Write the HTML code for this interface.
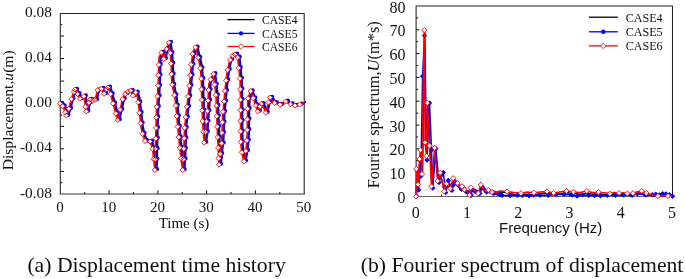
<!DOCTYPE html>
<html><head><meta charset="utf-8"><title>Figure</title>
<style>html,body{margin:0;padding:0;background:#fff;width:685px;height:279px;overflow:hidden}</style>
</head><body>
<svg width="685" height="279" viewBox="0 0 685 279" style="display:block;position:absolute;left:0;top:0" font-family="'Liberation Serif', 'Times New Roman', serif" fill="#111">
<rect width="685" height="279" fill="#fff"/>
<path d="M60.3,194.0V13.4H304.2V194.0" fill="none" stroke="#222" stroke-width="1.05"/><path d="M59.75,194.0H304.75" fill="none" stroke="#333" stroke-width="1.1"/>
<path d="M109.1,194.0v-3.7M157.9,194.0v-3.7M206.6,194.0v-3.7M255.4,194.0v-3.7M84.7,194.0v-2.1M133.5,194.0v-2.1M182.2,194.0v-2.1M231.0,194.0v-2.1M279.8,194.0v-2.1M60.3,36.0h3.7M60.3,58.5h3.7M60.3,81.1h3.7M60.3,103.7h3.7M60.3,126.3h3.7M60.3,148.8h3.7M60.3,171.4h3.7M60.3,24.7h2.1M60.3,47.3h2.1M60.3,69.8h2.1M60.3,92.4h2.1M60.3,115.0h2.1M60.3,137.6h2.1M60.3,160.1h2.1M60.3,182.7h2.1" fill="none" stroke="#111" stroke-width="1"/>
<g>
<polyline points="61.0,103.3 63.0,104.6 65.0,108.6 67.3,115.2 69.0,111.6 71.0,103.6 73.5,94.6 76.0,89.2 78.5,93.6 81.0,98.4 83.0,97.1 84.8,95.9 86.0,103.6 87.3,111.0 89.0,104.6 91.0,99.2 93.5,100.1 96.0,99.6 97.5,93.6 98.6,89.6 102.4,88.4 105.0,93.4 107.0,89.6 109.0,87.1 111.0,91.6 112.4,97.2 114.5,104.6 116.5,112.6 118.7,119.6 121.0,109.6 123.0,100.6 125.0,94.6 128.5,91.6 131.6,90.2 134.0,95.2 136.6,92.1 138.5,97.1 139.8,107.2 141.0,117.2 141.8,126.0 143.5,133.6 146.0,140.6 149.0,141.6 151.0,141.1 153.6,148.6 154.8,161.6 155.8,169.6 156.3,155.6 156.5,142.6 156.8,129.6 157.3,112.2 158.5,94.6 159.3,78.6 159.6,65.6 160.0,57.2 162.3,52.2 164.8,58.5 167.0,49.6 169.8,42.2 171.5,54.6 172.2,66.0 172.5,77.3 173.0,83.6 176.0,98.4 177.4,112.2 178.6,126.0 179.9,139.6 181.0,149.6 182.4,162.2 183.6,169.6 184.5,157.2 185.0,142.1 185.5,127.6 188.0,104.6 191.0,78.6 192.4,62.2 194.0,50.9 196.5,47.1 198.7,55.9 201.0,65.6 202.3,79.6 202.5,92.2 203.0,103.6 203.3,115.9 203.8,124.6 204.2,132.2 205.2,142.2 206.5,134.6 207.3,122.1 208.5,107.6 209.8,83.6 212.3,77.2 214.3,73.6 216.0,87.2 217.0,97.2 217.5,111.6 218.0,124.6 218.8,142.2 219.3,152.2 220.0,164.2 221.5,149.6 222.5,143.5 223.6,115.9 224.8,102.2 226.0,88.5 228.0,72.2 229.8,63.4 232.4,55.9 236.0,54.1 238.6,57.1 239.9,69.6 241.0,81.0 241.5,103.6 241.5,127.2 241.8,143.5 242.8,153.5 244.9,161.0 247.0,149.6 248.1,134.6 248.4,112.2 248.8,98.4 251.6,90.9 254.8,99.6 258.6,111.0 262.4,103.5 264.0,106.0 266.6,112.2 268.6,104.6 271.0,97.2 274.9,102.2 278.0,103.6 281.0,104.2 286.7,101.0 290.0,103.5 296.0,105.2 302.5,103.5 305.0,102.1" fill="none" stroke="#000" stroke-width="1.4"/>
<polyline points="62.1,102.9 64.1,104.2 66.1,108.2 68.4,114.8 70.1,111.2 72.1,103.2 74.6,94.2 77.1,88.8 79.6,93.2 82.1,98.0 84.1,96.7 85.9,95.5 87.1,103.2 88.4,110.6 90.1,104.2 92.1,98.8 94.6,99.7 97.1,99.2 98.6,93.2 99.7,89.2 103.5,88.0 106.1,93.0 108.1,89.2 110.1,86.7 112.1,91.2 113.5,96.8 115.6,104.2 117.6,112.2 119.8,119.2 122.1,109.2 124.1,100.2 126.1,94.2 129.6,91.2 132.7,89.8 135.1,94.8 137.7,91.7 139.6,96.7 140.9,106.8 142.1,116.8 142.9,125.6 144.6,133.2 147.1,140.2 150.1,141.2 152.1,140.7 154.7,148.2 155.9,161.2 156.9,169.2 157.4,155.2 157.6,142.2 157.9,129.2 158.4,111.8 159.6,94.2 160.4,78.2 160.7,65.2 161.1,56.8 163.4,51.8 165.9,58.1 168.1,49.2 170.9,41.8 172.6,54.2 173.3,65.6 173.6,76.9 174.1,83.2 177.1,98.0 178.5,111.8 179.7,125.6 181.0,139.2 182.1,149.2 183.5,161.8 184.7,169.2 185.6,156.8 186.1,141.7 186.6,127.2 189.1,104.2 192.1,78.2 193.5,61.8 195.1,50.5 197.6,46.7 199.8,55.5 202.1,65.2 203.4,79.2 203.6,91.8 204.1,103.2 204.4,115.5 204.9,124.2 205.3,131.8 206.3,141.8 207.6,134.2 208.4,121.7 209.6,107.2 210.9,83.2 213.4,76.8 215.4,73.2 217.1,86.8 218.1,96.8 218.6,111.2 219.1,124.2 219.9,141.8 220.4,151.8 221.1,163.8 222.6,149.2 223.6,143.1 224.7,115.5 225.9,101.8 227.1,88.1 229.1,71.8 230.9,63.0 233.5,55.5 237.1,53.7 239.7,56.7 241.0,69.2 242.1,80.6 242.6,103.2 242.6,126.8 242.9,143.1 243.9,153.1 246.0,160.6 248.1,149.2 249.2,134.2 249.5,111.8 249.9,98.0 252.7,90.5 255.9,99.2 259.7,110.6 263.5,103.1 265.1,105.6 267.7,111.8 269.7,104.2 272.1,96.8 276.0,101.8 279.1,103.2 282.1,103.8 287.8,100.6 291.1,103.1 297.1,104.8 303.6,103.1 306.1,101.7" fill="none" stroke="#00f" stroke-width="1.6" stroke-linejoin="round"/>
<path d="M60.0,102.9a2.15,2.15 0 1,0 4.3,0a2.15,2.15 0 1,0 -4.3,0ZM62.5,105.4a2.15,2.15 0 1,0 4.3,0a2.15,2.15 0 1,0 -4.3,0ZM65.1,111.4a2.15,2.15 0 1,0 4.3,0a2.15,2.15 0 1,0 -4.3,0ZM66.2,114.8a2.15,2.15 0 1,0 4.3,0a2.15,2.15 0 1,0 -4.3,0ZM68.8,108.0a2.15,2.15 0 1,0 4.3,0a2.15,2.15 0 1,0 -4.3,0ZM71.3,98.3a2.15,2.15 0 1,0 4.3,0a2.15,2.15 0 1,0 -4.3,0ZM73.9,91.1a2.15,2.15 0 1,0 4.3,0a2.15,2.15 0 1,0 -4.3,0ZM74.9,88.8a2.15,2.15 0 1,0 4.3,0a2.15,2.15 0 1,0 -4.3,0ZM77.4,93.2a2.15,2.15 0 1,0 4.3,0a2.15,2.15 0 1,0 -4.3,0ZM79.9,98.0a2.15,2.15 0 1,0 4.3,0a2.15,2.15 0 1,0 -4.3,0ZM83.7,95.5a2.15,2.15 0 1,0 4.3,0a2.15,2.15 0 1,0 -4.3,0ZM85.4,105.9a2.15,2.15 0 1,0 4.3,0a2.15,2.15 0 1,0 -4.3,0ZM86.2,110.6a2.15,2.15 0 1,0 4.3,0a2.15,2.15 0 1,0 -4.3,0ZM88.8,101.9a2.15,2.15 0 1,0 4.3,0a2.15,2.15 0 1,0 -4.3,0ZM89.9,98.8a2.15,2.15 0 1,0 4.3,0a2.15,2.15 0 1,0 -4.3,0ZM92.4,99.7a2.15,2.15 0 1,0 4.3,0a2.15,2.15 0 1,0 -4.3,0ZM94.9,99.2a2.15,2.15 0 1,0 4.3,0a2.15,2.15 0 1,0 -4.3,0ZM97.5,89.5a2.15,2.15 0 1,0 4.3,0a2.15,2.15 0 1,0 -4.3,0ZM101.3,88.0a2.15,2.15 0 1,0 4.3,0a2.15,2.15 0 1,0 -4.3,0ZM103.9,93.0a2.15,2.15 0 1,0 4.3,0a2.15,2.15 0 1,0 -4.3,0ZM106.4,88.6a2.15,2.15 0 1,0 4.3,0a2.15,2.15 0 1,0 -4.3,0ZM107.9,86.7a2.15,2.15 0 1,0 4.3,0a2.15,2.15 0 1,0 -4.3,0ZM110.5,93.4a2.15,2.15 0 1,0 4.3,0a2.15,2.15 0 1,0 -4.3,0ZM113.0,102.7a2.15,2.15 0 1,0 4.3,0a2.15,2.15 0 1,0 -4.3,0ZM115.6,112.7a2.15,2.15 0 1,0 4.3,0a2.15,2.15 0 1,0 -4.3,0ZM117.6,119.2a2.15,2.15 0 1,0 4.3,0a2.15,2.15 0 1,0 -4.3,0ZM120.0,109.0a2.15,2.15 0 1,0 4.3,0a2.15,2.15 0 1,0 -4.3,0ZM122.5,98.5a2.15,2.15 0 1,0 4.3,0a2.15,2.15 0 1,0 -4.3,0ZM125.1,93.2a2.15,2.15 0 1,0 4.3,0a2.15,2.15 0 1,0 -4.3,0ZM127.7,91.1a2.15,2.15 0 1,0 4.3,0a2.15,2.15 0 1,0 -4.3,0ZM130.5,89.8a2.15,2.15 0 1,0 4.3,0a2.15,2.15 0 1,0 -4.3,0ZM132.9,94.8a2.15,2.15 0 1,0 4.3,0a2.15,2.15 0 1,0 -4.3,0ZM135.5,91.7a2.15,2.15 0 1,0 4.3,0a2.15,2.15 0 1,0 -4.3,0ZM138.1,101.5a2.15,2.15 0 1,0 4.3,0a2.15,2.15 0 1,0 -4.3,0ZM139.4,112.0a2.15,2.15 0 1,0 4.3,0a2.15,2.15 0 1,0 -4.3,0ZM140.5,122.6a2.15,2.15 0 1,0 4.3,0a2.15,2.15 0 1,0 -4.3,0ZM142.4,133.0a2.15,2.15 0 1,0 4.3,0a2.15,2.15 0 1,0 -4.3,0ZM144.9,140.2a2.15,2.15 0 1,0 4.3,0a2.15,2.15 0 1,0 -4.3,0ZM149.9,140.7a2.15,2.15 0 1,0 4.3,0a2.15,2.15 0 1,0 -4.3,0ZM152.5,148.0a2.15,2.15 0 1,0 4.3,0a2.15,2.15 0 1,0 -4.3,0ZM153.5,158.4a2.15,2.15 0 1,0 4.3,0a2.15,2.15 0 1,0 -4.3,0ZM154.8,169.2a2.15,2.15 0 1,0 4.3,0a2.15,2.15 0 1,0 -4.3,0ZM155.1,158.7a2.15,2.15 0 1,0 4.3,0a2.15,2.15 0 1,0 -4.3,0ZM155.4,148.2a2.15,2.15 0 1,0 4.3,0a2.15,2.15 0 1,0 -4.3,0ZM155.6,137.7a2.15,2.15 0 1,0 4.3,0a2.15,2.15 0 1,0 -4.3,0ZM155.8,127.2a2.15,2.15 0 1,0 4.3,0a2.15,2.15 0 1,0 -4.3,0ZM156.1,116.6a2.15,2.15 0 1,0 4.3,0a2.15,2.15 0 1,0 -4.3,0ZM156.6,106.0a2.15,2.15 0 1,0 4.3,0a2.15,2.15 0 1,0 -4.3,0ZM157.4,95.5a2.15,2.15 0 1,0 4.3,0a2.15,2.15 0 1,0 -4.3,0ZM157.9,85.0a2.15,2.15 0 1,0 4.3,0a2.15,2.15 0 1,0 -4.3,0ZM158.3,74.5a2.15,2.15 0 1,0 4.3,0a2.15,2.15 0 1,0 -4.3,0ZM158.6,63.9a2.15,2.15 0 1,0 4.3,0a2.15,2.15 0 1,0 -4.3,0ZM161.2,51.8a2.15,2.15 0 1,0 4.3,0a2.15,2.15 0 1,0 -4.3,0ZM163.8,58.1a2.15,2.15 0 1,0 4.3,0a2.15,2.15 0 1,0 -4.3,0ZM166.3,48.2a2.15,2.15 0 1,0 4.3,0a2.15,2.15 0 1,0 -4.3,0ZM168.8,41.8a2.15,2.15 0 1,0 4.3,0a2.15,2.15 0 1,0 -4.3,0ZM170.2,52.2a2.15,2.15 0 1,0 4.3,0a2.15,2.15 0 1,0 -4.3,0ZM171.0,62.8a2.15,2.15 0 1,0 4.3,0a2.15,2.15 0 1,0 -4.3,0ZM171.4,73.4a2.15,2.15 0 1,0 4.3,0a2.15,2.15 0 1,0 -4.3,0ZM172.1,83.9a2.15,2.15 0 1,0 4.3,0a2.15,2.15 0 1,0 -4.3,0ZM174.2,94.3a2.15,2.15 0 1,0 4.3,0a2.15,2.15 0 1,0 -4.3,0ZM175.6,104.8a2.15,2.15 0 1,0 4.3,0a2.15,2.15 0 1,0 -4.3,0ZM176.7,115.3a2.15,2.15 0 1,0 4.3,0a2.15,2.15 0 1,0 -4.3,0ZM177.6,125.9a2.15,2.15 0 1,0 4.3,0a2.15,2.15 0 1,0 -4.3,0ZM178.6,136.4a2.15,2.15 0 1,0 4.3,0a2.15,2.15 0 1,0 -4.3,0ZM179.7,146.9a2.15,2.15 0 1,0 4.3,0a2.15,2.15 0 1,0 -4.3,0ZM180.9,157.5a2.15,2.15 0 1,0 4.3,0a2.15,2.15 0 1,0 -4.3,0ZM182.5,169.2a2.15,2.15 0 1,0 4.3,0a2.15,2.15 0 1,0 -4.3,0ZM183.3,158.6a2.15,2.15 0 1,0 4.3,0a2.15,2.15 0 1,0 -4.3,0ZM183.7,148.0a2.15,2.15 0 1,0 4.3,0a2.15,2.15 0 1,0 -4.3,0ZM184.1,137.4a2.15,2.15 0 1,0 4.3,0a2.15,2.15 0 1,0 -4.3,0ZM184.5,127.0a2.15,2.15 0 1,0 4.3,0a2.15,2.15 0 1,0 -4.3,0ZM185.6,116.5a2.15,2.15 0 1,0 4.3,0a2.15,2.15 0 1,0 -4.3,0ZM186.8,106.0a2.15,2.15 0 1,0 4.3,0a2.15,2.15 0 1,0 -4.3,0ZM188.0,95.5a2.15,2.15 0 1,0 4.3,0a2.15,2.15 0 1,0 -4.3,0ZM189.2,85.0a2.15,2.15 0 1,0 4.3,0a2.15,2.15 0 1,0 -4.3,0ZM190.3,74.4a2.15,2.15 0 1,0 4.3,0a2.15,2.15 0 1,0 -4.3,0ZM191.2,63.8a2.15,2.15 0 1,0 4.3,0a2.15,2.15 0 1,0 -4.3,0ZM192.6,53.3a2.15,2.15 0 1,0 4.3,0a2.15,2.15 0 1,0 -4.3,0ZM195.4,46.7a2.15,2.15 0 1,0 4.3,0a2.15,2.15 0 1,0 -4.3,0ZM198.0,57.0a2.15,2.15 0 1,0 4.3,0a2.15,2.15 0 1,0 -4.3,0ZM200.2,67.5a2.15,2.15 0 1,0 4.3,0a2.15,2.15 0 1,0 -4.3,0ZM201.1,78.0a2.15,2.15 0 1,0 4.3,0a2.15,2.15 0 1,0 -4.3,0ZM201.4,88.5a2.15,2.15 0 1,0 4.3,0a2.15,2.15 0 1,0 -4.3,0ZM201.8,99.1a2.15,2.15 0 1,0 4.3,0a2.15,2.15 0 1,0 -4.3,0ZM202.1,109.7a2.15,2.15 0 1,0 4.3,0a2.15,2.15 0 1,0 -4.3,0ZM202.5,120.4a2.15,2.15 0 1,0 4.3,0a2.15,2.15 0 1,0 -4.3,0ZM203.1,131.0a2.15,2.15 0 1,0 4.3,0a2.15,2.15 0 1,0 -4.3,0ZM204.1,141.8a2.15,2.15 0 1,0 4.3,0a2.15,2.15 0 1,0 -4.3,0ZM205.6,131.2a2.15,2.15 0 1,0 4.3,0a2.15,2.15 0 1,0 -4.3,0ZM206.3,120.7a2.15,2.15 0 1,0 4.3,0a2.15,2.15 0 1,0 -4.3,0ZM207.2,110.2a2.15,2.15 0 1,0 4.3,0a2.15,2.15 0 1,0 -4.3,0ZM207.9,99.7a2.15,2.15 0 1,0 4.3,0a2.15,2.15 0 1,0 -4.3,0ZM208.4,89.2a2.15,2.15 0 1,0 4.3,0a2.15,2.15 0 1,0 -4.3,0ZM210.5,78.7a2.15,2.15 0 1,0 4.3,0a2.15,2.15 0 1,0 -4.3,0ZM213.2,73.2a2.15,2.15 0 1,0 4.3,0a2.15,2.15 0 1,0 -4.3,0ZM214.6,83.8a2.15,2.15 0 1,0 4.3,0a2.15,2.15 0 1,0 -4.3,0ZM215.7,94.3a2.15,2.15 0 1,0 4.3,0a2.15,2.15 0 1,0 -4.3,0ZM216.2,104.9a2.15,2.15 0 1,0 4.3,0a2.15,2.15 0 1,0 -4.3,0ZM216.6,115.5a2.15,2.15 0 1,0 4.3,0a2.15,2.15 0 1,0 -4.3,0ZM217.0,126.0a2.15,2.15 0 1,0 4.3,0a2.15,2.15 0 1,0 -4.3,0ZM217.5,136.5a2.15,2.15 0 1,0 4.3,0a2.15,2.15 0 1,0 -4.3,0ZM218.0,147.0a2.15,2.15 0 1,0 4.3,0a2.15,2.15 0 1,0 -4.3,0ZM218.6,157.5a2.15,2.15 0 1,0 4.3,0a2.15,2.15 0 1,0 -4.3,0ZM218.9,163.8a2.15,2.15 0 1,0 4.3,0a2.15,2.15 0 1,0 -4.3,0ZM220.0,153.2a2.15,2.15 0 1,0 4.3,0a2.15,2.15 0 1,0 -4.3,0ZM221.5,142.6a2.15,2.15 0 1,0 4.3,0a2.15,2.15 0 1,0 -4.3,0ZM221.9,132.1a2.15,2.15 0 1,0 4.3,0a2.15,2.15 0 1,0 -4.3,0ZM222.3,121.5a2.15,2.15 0 1,0 4.3,0a2.15,2.15 0 1,0 -4.3,0ZM222.9,111.0a2.15,2.15 0 1,0 4.3,0a2.15,2.15 0 1,0 -4.3,0ZM223.9,100.6a2.15,2.15 0 1,0 4.3,0a2.15,2.15 0 1,0 -4.3,0ZM224.8,90.1a2.15,2.15 0 1,0 4.3,0a2.15,2.15 0 1,0 -4.3,0ZM226.0,79.6a2.15,2.15 0 1,0 4.3,0a2.15,2.15 0 1,0 -4.3,0ZM227.5,69.0a2.15,2.15 0 1,0 4.3,0a2.15,2.15 0 1,0 -4.3,0ZM230.1,59.1a2.15,2.15 0 1,0 4.3,0a2.15,2.15 0 1,0 -4.3,0ZM232.7,54.8a2.15,2.15 0 1,0 4.3,0a2.15,2.15 0 1,0 -4.3,0ZM234.9,53.7a2.15,2.15 0 1,0 4.3,0a2.15,2.15 0 1,0 -4.3,0ZM237.5,56.7a2.15,2.15 0 1,0 4.3,0a2.15,2.15 0 1,0 -4.3,0ZM238.6,67.2a2.15,2.15 0 1,0 4.3,0a2.15,2.15 0 1,0 -4.3,0ZM239.7,77.8a2.15,2.15 0 1,0 4.3,0a2.15,2.15 0 1,0 -4.3,0ZM240.1,88.4a2.15,2.15 0 1,0 4.3,0a2.15,2.15 0 1,0 -4.3,0ZM240.4,98.9a2.15,2.15 0 1,0 4.3,0a2.15,2.15 0 1,0 -4.3,0ZM240.4,109.5a2.15,2.15 0 1,0 4.3,0a2.15,2.15 0 1,0 -4.3,0ZM240.4,120.0a2.15,2.15 0 1,0 4.3,0a2.15,2.15 0 1,0 -4.3,0ZM240.5,130.6a2.15,2.15 0 1,0 4.3,0a2.15,2.15 0 1,0 -4.3,0ZM240.7,141.1a2.15,2.15 0 1,0 4.3,0a2.15,2.15 0 1,0 -4.3,0ZM241.6,151.6a2.15,2.15 0 1,0 4.3,0a2.15,2.15 0 1,0 -4.3,0ZM243.8,160.6a2.15,2.15 0 1,0 4.3,0a2.15,2.15 0 1,0 -4.3,0ZM245.8,150.2a2.15,2.15 0 1,0 4.3,0a2.15,2.15 0 1,0 -4.3,0ZM246.6,139.7a2.15,2.15 0 1,0 4.3,0a2.15,2.15 0 1,0 -4.3,0ZM247.1,129.2a2.15,2.15 0 1,0 4.3,0a2.15,2.15 0 1,0 -4.3,0ZM247.3,118.6a2.15,2.15 0 1,0 4.3,0a2.15,2.15 0 1,0 -4.3,0ZM247.5,108.0a2.15,2.15 0 1,0 4.3,0a2.15,2.15 0 1,0 -4.3,0ZM247.9,97.5a2.15,2.15 0 1,0 4.3,0a2.15,2.15 0 1,0 -4.3,0ZM250.5,90.5a2.15,2.15 0 1,0 4.3,0a2.15,2.15 0 1,0 -4.3,0ZM253.1,97.3a2.15,2.15 0 1,0 4.3,0a2.15,2.15 0 1,0 -4.3,0ZM255.6,104.7a2.15,2.15 0 1,0 4.3,0a2.15,2.15 0 1,0 -4.3,0ZM257.6,110.6a2.15,2.15 0 1,0 4.3,0a2.15,2.15 0 1,0 -4.3,0ZM260.1,105.6a2.15,2.15 0 1,0 4.3,0a2.15,2.15 0 1,0 -4.3,0ZM261.4,103.1a2.15,2.15 0 1,0 4.3,0a2.15,2.15 0 1,0 -4.3,0ZM265.6,111.8a2.15,2.15 0 1,0 4.3,0a2.15,2.15 0 1,0 -4.3,0ZM268.4,101.6a2.15,2.15 0 1,0 4.3,0a2.15,2.15 0 1,0 -4.3,0ZM270.0,96.8a2.15,2.15 0 1,0 4.3,0a2.15,2.15 0 1,0 -4.3,0ZM274.6,102.1a2.15,2.15 0 1,0 4.3,0a2.15,2.15 0 1,0 -4.3,0ZM280.0,103.8a2.15,2.15 0 1,0 4.3,0a2.15,2.15 0 1,0 -4.3,0ZM285.7,100.6a2.15,2.15 0 1,0 4.3,0a2.15,2.15 0 1,0 -4.3,0ZM290.5,103.5a2.15,2.15 0 1,0 4.3,0a2.15,2.15 0 1,0 -4.3,0ZM295.0,104.8a2.15,2.15 0 1,0 4.3,0a2.15,2.15 0 1,0 -4.3,0ZM299.7,103.6a2.15,2.15 0 1,0 4.3,0a2.15,2.15 0 1,0 -4.3,0Z" fill="#00f"/>
<polyline points="60.0,103.7 62.0,105.0 64.0,109.0 66.3,115.6 68.0,112.0 70.0,104.0 72.5,95.0 75.0,89.6 77.5,94.0 80.0,98.8 82.0,97.5 83.8,96.3 85.0,104.0 86.3,111.4 88.0,105.0 90.0,99.6 92.5,100.5 95.0,100.0 96.5,94.0 97.6,90.0 101.4,88.8 104.0,93.8 106.0,90.0 108.0,87.5 110.0,92.0 111.4,97.6 113.5,105.0 115.5,113.0 117.7,120.0 120.0,110.0 122.0,101.0 124.0,95.0 127.5,92.0 130.6,90.6 133.0,95.6 135.6,92.5 137.5,97.5 138.8,107.6 140.0,117.6 140.8,126.4 142.5,134.0 145.0,141.0 148.0,142.0 150.0,141.5 152.6,149.0 153.8,162.0 154.8,170.0 155.3,156.0 155.5,143.0 155.8,130.0 156.3,112.6 157.5,95.0 158.3,79.0 158.6,66.0 159.0,57.6 161.3,52.6 163.8,58.9 166.0,50.0 168.8,42.6 170.5,55.0 171.2,66.4 171.5,77.7 172.0,84.0 175.0,98.8 176.4,112.6 177.6,126.4 178.9,140.0 180.0,150.0 181.4,162.6 182.6,170.0 183.5,157.6 184.0,142.5 184.5,128.0 187.0,105.0 190.0,79.0 191.4,62.6 193.0,51.3 195.5,47.5 197.7,56.3 200.0,66.0 201.3,80.0 201.5,92.6 202.0,104.0 202.3,116.3 202.8,125.0 203.2,132.6 204.2,142.6 205.5,135.0 206.3,122.5 207.5,108.0 208.8,84.0 211.3,77.6 213.3,74.0 215.0,87.6 216.0,97.6 216.5,112.0 217.0,125.0 217.8,142.6 218.3,152.6 219.0,164.6 220.5,150.0 221.5,143.9 222.6,116.3 223.8,102.6 225.0,88.9 227.0,72.6 228.8,63.8 231.4,56.3 235.0,54.5 237.6,57.5 238.9,70.0 240.0,81.4 240.5,104.0 240.5,127.6 240.8,143.9 241.8,153.9 243.9,161.4 246.0,150.0 247.1,135.0 247.4,112.6 247.8,98.8 250.6,91.3 253.8,100.0 257.6,111.4 261.4,103.9 263.0,106.4 265.6,112.6 267.6,105.0 270.0,97.6 273.9,102.6 277.0,104.0 280.0,104.6 285.7,101.4 289.0,103.9 295.0,105.6 301.5,103.9 304.0,102.5" fill="none" stroke="#f00" stroke-width="1.5" stroke-linejoin="round"/>
<path d="M57.5,103.7L60.0,101.2L62.5,103.7L60.0,106.2ZM60.0,106.2L62.6,103.6L65.1,106.2L62.6,108.7ZM62.6,112.2L65.1,109.6L67.7,112.2L65.1,114.7ZM63.8,115.6L66.3,113.0L68.8,115.6L66.3,118.1ZM66.3,108.8L68.8,106.2L71.4,108.8L68.8,111.3ZM68.8,99.1L71.4,96.6L73.9,99.1L71.4,101.7ZM71.4,91.9L73.9,89.4L76.5,91.9L73.9,94.5ZM72.5,89.6L75.0,87.0L77.5,89.6L75.0,92.1ZM75.0,94.0L77.5,91.5L80.0,94.0L77.5,96.5ZM77.5,98.8L80.0,96.2L82.5,98.8L80.0,101.3ZM81.2,96.3L83.8,93.8L86.3,96.3L83.8,98.8ZM82.9,106.7L85.5,104.2L88.0,106.7L85.5,109.3ZM83.8,111.4L86.3,108.9L88.8,111.4L86.3,114.0ZM86.3,102.7L88.9,100.1L91.4,102.7L88.9,105.2ZM87.5,99.6L90.0,97.0L92.5,99.6L90.0,102.1ZM90.0,100.5L92.5,98.0L95.0,100.5L92.5,103.0ZM92.5,100.0L95.0,97.5L97.5,100.0L95.0,102.5ZM95.0,90.2L97.5,87.7L100.1,90.2L97.5,92.8ZM98.9,88.8L101.4,86.2L104.0,88.8L101.4,91.3ZM101.5,93.8L104.0,91.2L106.5,93.8L104.0,96.3ZM104.0,89.4L106.5,86.8L109.0,89.4L106.5,91.9ZM105.5,87.5L108.0,85.0L110.5,87.5L108.0,90.0ZM108.0,94.2L110.5,91.6L113.1,94.2L110.5,96.7ZM110.5,103.5L113.1,101.0L115.6,103.5L113.1,106.1ZM113.1,113.5L115.7,110.9L118.2,113.5L115.7,116.0ZM115.2,120.0L117.7,117.5L120.2,120.0L117.7,122.5ZM117.5,109.8L120.1,107.2L122.6,109.8L120.1,112.3ZM120.0,99.3L122.6,96.8L125.1,99.3L122.6,101.9ZM122.6,94.0L125.2,91.5L127.7,94.0L125.2,96.5ZM125.2,91.9L127.7,89.3L130.3,91.9L127.7,94.4ZM128.0,90.6L130.6,88.0L133.2,90.6L130.6,93.1ZM130.4,95.6L133.0,93.0L135.6,95.6L133.0,98.1ZM133.0,92.5L135.6,90.0L138.2,92.5L135.6,95.0ZM135.6,102.3L138.1,99.7L140.7,102.3L138.1,104.8ZM136.9,112.8L139.4,110.3L142.0,112.8L139.4,115.4ZM138.0,123.4L140.5,120.8L143.1,123.4L140.5,125.9ZM139.9,133.8L142.4,131.2L145.0,133.8L142.4,136.3ZM142.4,141.0L145.0,138.4L147.6,141.0L145.0,143.6ZM147.4,141.5L150.0,138.9L152.6,141.5L150.0,144.1ZM150.0,148.8L152.5,146.2L155.1,148.8L152.5,151.3ZM151.0,159.2L153.5,156.7L156.1,159.2L153.5,161.8ZM152.2,170.0L154.8,167.4L157.4,170.0L154.8,172.6ZM152.6,159.5L155.2,156.9L157.7,159.5L155.2,162.1ZM152.9,149.0L155.4,146.4L158.0,149.0L155.4,151.6ZM153.1,138.5L155.6,135.9L158.2,138.5L155.6,141.1ZM153.3,128.0L155.9,125.4L158.4,128.0L155.9,130.5ZM153.6,117.4L156.2,114.8L158.7,117.4L156.2,119.9ZM154.1,106.8L156.7,104.3L159.2,106.8L156.7,109.4ZM154.9,96.3L157.4,93.7L160.0,96.3L157.4,98.8ZM155.4,85.8L158.0,83.2L160.5,85.8L158.0,88.3ZM155.8,75.2L158.4,72.7L160.9,75.2L158.4,77.8ZM156.1,64.7L158.7,62.2L161.2,64.7L158.7,67.3ZM158.8,52.6L161.3,50.1L163.9,52.6L161.3,55.1ZM161.2,58.9L163.8,56.4L166.4,58.9L163.8,61.4ZM163.8,49.0L166.4,46.5L168.9,49.0L166.4,51.6ZM166.2,42.6L168.8,40.1L171.4,42.6L168.8,45.1ZM167.7,53.0L170.2,50.5L172.8,53.0L170.2,55.6ZM168.5,63.6L171.0,61.1L173.6,63.6L171.0,66.2ZM168.9,74.2L171.4,71.6L174.0,74.2L171.4,76.7ZM169.6,84.7L172.2,82.2L174.7,84.7L172.2,87.3ZM171.7,95.1L174.2,92.5L176.8,95.1L174.2,97.6ZM173.1,105.6L175.7,103.0L178.2,105.6L175.7,108.1ZM174.2,116.1L176.7,113.6L179.3,116.1L176.7,118.7ZM175.1,126.7L177.6,124.1L180.2,126.7L177.6,129.2ZM176.1,137.2L178.6,134.7L181.2,137.2L178.6,139.8ZM177.2,147.8L179.8,145.2L182.3,147.8L179.8,150.3ZM178.4,158.3L180.9,155.8L183.5,158.3L180.9,160.9ZM180.0,170.0L182.6,167.4L185.2,170.0L182.6,172.6ZM180.8,159.4L183.4,156.8L185.9,159.4L183.4,161.9ZM181.2,148.8L183.8,146.2L186.3,148.8L183.8,151.3ZM181.6,138.2L184.1,135.7L186.7,138.2L184.1,140.8ZM182.0,127.8L184.5,125.2L187.1,127.8L184.5,130.3ZM183.1,117.2L185.7,114.7L188.2,117.2L185.7,119.8ZM184.3,106.8L186.8,104.2L189.4,106.8L186.8,109.3ZM185.5,96.2L188.0,93.7L190.6,96.2L188.0,98.8ZM186.7,85.8L189.2,83.2L191.8,85.8L189.2,88.3ZM187.8,75.2L190.3,72.7L192.9,75.2L190.3,77.8ZM188.7,64.6L191.2,62.1L193.8,64.6L191.2,67.2ZM190.1,54.1L192.6,51.5L195.2,54.1L192.6,56.6ZM192.9,47.5L195.5,45.0L198.1,47.5L195.5,50.0ZM195.5,57.8L198.1,55.2L200.6,57.8L198.1,60.3ZM197.7,68.2L200.2,65.7L202.8,68.2L200.2,70.8ZM198.6,78.8L201.2,76.2L203.7,78.8L201.2,81.3ZM198.9,89.3L201.4,86.8L204.0,89.3L201.4,91.9ZM199.3,99.9L201.8,97.4L204.4,99.9L201.8,102.5ZM199.6,110.5L202.2,108.0L204.7,110.5L202.2,113.1ZM200.0,121.2L202.6,118.6L205.1,121.2L202.6,123.7ZM200.6,131.8L203.2,129.3L205.7,131.8L203.2,134.4ZM201.6,142.6L204.2,140.0L206.8,142.6L204.2,145.2ZM203.1,132.0L205.7,129.4L208.2,132.0L205.7,134.6ZM203.8,121.5L206.4,119.0L208.9,121.5L206.4,124.0ZM204.7,111.0L207.3,108.5L209.8,111.0L207.3,113.5ZM205.4,100.5L207.9,98.0L210.5,100.5L207.9,103.0ZM205.9,90.0L208.5,87.5L211.0,90.0L208.5,92.5ZM208.0,79.5L210.6,76.9L213.1,79.5L210.6,82.0ZM210.8,74.0L213.3,71.5L215.9,74.0L213.3,76.5ZM212.1,84.6L214.6,82.0L217.2,84.6L214.6,87.1ZM213.2,95.1L215.8,92.5L218.3,95.1L215.8,97.6ZM213.7,105.7L216.3,103.1L218.8,105.7L216.3,108.2ZM214.1,116.2L216.7,113.7L219.2,116.2L216.7,118.8ZM214.5,126.8L217.1,124.2L219.6,126.8L217.1,129.3ZM215.0,137.3L217.6,134.8L220.1,137.3L217.6,139.9ZM215.5,147.8L218.1,145.3L220.6,147.8L218.1,150.4ZM216.1,158.3L218.6,155.8L221.2,158.3L218.6,160.9ZM216.4,164.6L219.0,162.0L221.6,164.6L219.0,167.2ZM217.5,154.0L220.1,151.5L222.6,154.0L220.1,156.6ZM219.0,143.4L221.5,140.8L224.1,143.4L221.5,145.9ZM219.4,132.9L221.9,130.3L224.5,132.9L221.9,135.4ZM219.8,122.3L222.4,119.8L224.9,122.3L222.4,124.9ZM220.4,111.8L223.0,109.3L225.5,111.8L223.0,114.4ZM221.4,101.4L223.9,98.8L226.5,101.4L223.9,103.9ZM222.3,90.9L224.8,88.3L227.4,90.9L224.8,93.4ZM223.5,80.4L226.0,77.8L228.6,80.4L226.0,82.9ZM225.0,69.8L227.6,67.3L230.1,69.8L227.6,72.4ZM227.6,59.9L230.1,57.4L232.7,59.9L230.1,62.5ZM230.2,55.6L232.8,53.1L235.3,55.6L232.8,58.2ZM232.4,54.5L235.0,52.0L237.6,54.5L235.0,57.0ZM235.0,57.5L237.6,55.0L240.2,57.5L237.6,60.0ZM236.1,68.0L238.7,65.5L241.2,68.0L238.7,70.5ZM237.2,78.6L239.7,76.1L242.3,78.6L239.7,81.2ZM237.6,89.2L240.2,86.6L242.7,89.2L240.2,91.7ZM237.9,99.7L240.4,97.2L243.0,99.7L240.4,102.3ZM237.9,110.3L240.5,107.7L243.1,110.3L240.5,112.8ZM237.9,120.8L240.5,118.3L243.1,120.8L240.5,123.4ZM238.0,131.4L240.6,128.8L243.1,131.4L240.6,133.9ZM238.2,141.9L240.8,139.3L243.3,141.9L240.8,144.4ZM239.1,152.4L241.7,149.8L244.2,152.4L241.7,155.0ZM241.3,161.4L243.9,158.8L246.5,161.4L243.9,164.0ZM243.3,151.0L245.8,148.4L248.4,151.0L245.8,153.5ZM244.1,140.5L246.7,137.9L249.2,140.5L246.7,143.1ZM244.6,130.0L247.2,127.4L249.7,130.0L247.2,132.5ZM244.8,119.4L247.3,116.8L249.9,119.4L247.3,121.9ZM245.0,108.8L247.5,106.3L250.1,108.8L247.5,111.4ZM245.4,98.3L248.0,95.8L250.5,98.3L248.0,100.9ZM248.0,91.3L250.6,88.8L253.2,91.3L250.6,93.8ZM250.6,98.1L253.1,95.6L255.7,98.1L253.1,100.7ZM253.1,105.5L255.6,102.9L258.2,105.5L255.6,108.0ZM255.1,111.4L257.6,108.9L260.2,111.4L257.6,114.0ZM257.6,106.4L260.1,103.9L262.7,106.4L260.1,109.0ZM258.8,103.9L261.4,101.4L263.9,103.9L261.4,106.5ZM263.1,112.6L265.6,110.0L268.2,112.6L265.6,115.1ZM265.9,102.4L268.5,99.8L271.0,102.4L268.5,104.9ZM267.4,97.6L270.0,95.0L272.6,97.6L270.0,100.1ZM272.1,102.9L274.6,100.4L277.2,102.9L274.6,105.5ZM277.4,104.6L280.0,102.0L282.6,104.6L280.0,107.1ZM283.1,101.4L285.7,98.9L288.2,101.4L285.7,104.0ZM287.9,104.3L290.5,101.8L293.1,104.3L290.5,106.9ZM292.4,105.6L295.0,103.0L297.6,105.6L295.0,108.1ZM297.2,104.4L299.8,101.8L302.3,104.4L299.8,106.9Z" fill="#fff" stroke="#f00" stroke-width="0.9"/>
</g>
<g font-size="15.3px" text-anchor="end">
<text x="51.8" y="17.0">0.08</text>
<text x="51.8" y="62.1">0.04</text>
<text x="51.8" y="107.3">0.00</text>
<text x="51.8" y="152.4">-0.04</text>
<text x="51.8" y="197.6">-0.08</text>
</g>
<g font-size="15px" text-anchor="middle">
<text x="59.9" y="211.8">0</text>
<text x="108.7" y="211.8">10</text>
<text x="157.5" y="211.8">20</text>
<text x="206.2" y="211.8">30</text>
<text x="255.0" y="211.8">40</text>
<text x="303.8" y="211.8">50</text>
<text x="184" y="228.2">Time (s)</text>
</g>
<text font-size="15.6px" transform="translate(13.2,170.3) rotate(-90)">Displacement,<tspan font-style="italic">u</tspan>(m)</text>
<path d="M227.5,19.6h27.1" stroke="#000" stroke-width="1.3"/>
<path d="M227.5,33.4h27.1" stroke="#00f" stroke-width="1.3"/><circle cx="241" cy="33.4" r="2.1" fill="#00f"/>
<path d="M227.5,46.5h27.1" stroke="#f00" stroke-width="1.3"/><path d="M238.2,46.5l2.8,-2.8l2.8,2.8l-2.8,2.8z" fill="#fff" stroke="#f00" stroke-width="0.8"/>
<g font-size="11.6px"><text x="262" y="24.3">CASE4</text><text x="262" y="38">CASE5</text><text x="262" y="51.4">CASE6</text></g>
<text font-size="21.7px" x="27.4" y="272">(a) Displacement time history</text>
<path d="M416.1,196.5V6.0H672.5V196.5" fill="none" stroke="#222" stroke-width="1.05"/><path d="M415.55,196.5H673.05" fill="none" stroke="#666" stroke-width="1.1"/>
<path d="M467.4,196.5v-3.4M518.7,196.5v-3.4M569.9,196.5v-3.4M621.2,196.5v-3.4M441.7,196.5v-2.1M493.0,196.5v-2.1M544.3,196.5v-2.1M595.6,196.5v-2.1M646.9,196.5v-2.1M416.1,29.8h3.4M416.1,53.6h3.4M416.1,77.4h3.4M416.1,101.2h3.4M416.1,125.1h3.4M416.1,148.9h3.4M416.1,172.7h3.4M416.1,17.9h2.1M416.1,41.7h2.1M416.1,65.5h2.1M416.1,89.3h2.1M416.1,113.2h2.1M416.1,137.0h2.1M416.1,160.8h2.1M416.1,184.6h2.1" fill="none" stroke="#111" stroke-width="1"/>
<g>
<polyline points="416.5,196.3 416.8,169.6 418.5,185.2 420.0,159.8 420.9,150.8 422.5,174.8 424.8,30.8 425.6,143.3 426.9,156.8 427.8,103.8 430.0,146.4 431.9,187.1 435.1,148.8 438.1,181.8 440.6,174.1 444.7,193.3 446.9,186.0 450.9,189.5 453.6,180.0 458.0,184.1 460.5,189.9 462.5,187.6 464.9,191.7 467.5,193.4 470.0,196.3 471.2,190.0 474.5,191.3 478.7,194.1 481.3,186.6 485.5,192.4 488.8,191.1 492.5,193.5 496.5,194.3 500.5,192.0 507.6,192.5 514.5,194.7 521.5,194.5 527.5,194.3 534.4,195.0 540.5,193.4 547.4,193.0 554.1,194.6 560.5,193.8 566.9,192.8 573.9,193.6 580.5,194.3 587.3,193.3 592.5,194.1 599.0,193.7 604.5,194.8 610.3,194.8 614.5,193.8 619.5,195.4 623.5,194.4 627.9,195.2 633.5,194.0 637.5,193.5 642.3,192.7 646.8,193.8 652.5,196.3 658.5,196.3 668.5,196.3 673.0,196.3" fill="none" stroke="#000" stroke-width="1.4"/>
<polyline points="416.3,196.0 417.0,170.0 418.6,190.0 420.0,160.0 421.0,152.0 420.8,176.3 422.6,76.3 424.5,35.6 427.0,160.0 429.5,103.1 431.5,150.0 432.8,188.0 435.8,148.5 439.0,182.5 441.5,175.0 443.3,172.5 445.6,192.5 448.3,180.5 452.0,190.4 454.7,181.3 459.1,185.9 461.6,189.4 463.6,187.9 466.0,191.4 468.6,192.5 471.1,195.3 472.3,189.6 475.6,191.5 479.8,193.5 482.4,187.0 486.6,192.1 489.9,191.2 493.6,192.7 497.6,193.5 502.0,195.3 510.0,195.5 517.4,195.3 522.2,195.2 529.1,195.8 533.7,195.0 540.1,195.2 548.1,195.2 556.3,194.5 564.0,194.4 572.2,195.0 577.1,196.1 582.5,194.9 588.7,195.4 594.4,195.5 600.5,195.8 607.3,195.4 615.4,195.3 623.6,195.0 632.1,195.3 637.3,193.8 645.6,194.9 652.4,194.7 655.8,194.3 659.2,194.9 662.6,193.8 666.0,194.0 669.4,194.8 672.5,196.3" fill="none" stroke="#00f" stroke-width="1.5" stroke-linejoin="round"/>
<path d="M413.6,196.0L416.3,193.3L419.0,196.0L416.3,198.7ZM414.3,170.0L417.0,167.3L419.7,170.0L417.0,172.7ZM415.9,190.0L418.6,187.3L421.3,190.0L418.6,192.7ZM417.3,160.0L420.0,157.3L422.7,160.0L420.0,162.7ZM418.1,176.3L420.8,173.6L423.5,176.3L420.8,179.0ZM419.9,76.3L422.6,73.6L425.3,76.3L422.6,79.0ZM421.8,35.6L424.5,32.9L427.2,35.6L424.5,38.3ZM424.3,160.0L427.0,157.3L429.7,160.0L427.0,162.7ZM426.8,103.1L429.5,100.4L432.2,103.1L429.5,105.8ZM428.8,150.0L431.5,147.3L434.2,150.0L431.5,152.7ZM430.1,188.0L432.8,185.3L435.5,188.0L432.8,190.7ZM433.1,148.5L435.8,145.8L438.5,148.5L435.8,151.2ZM436.3,182.5L439.0,179.8L441.7,182.5L439.0,185.2ZM438.8,175.0L441.5,172.3L444.2,175.0L441.5,177.7ZM440.6,172.5L443.3,169.8L446.0,172.5L443.3,175.2ZM442.9,192.5L445.6,189.8L448.3,192.5L445.6,195.2ZM445.6,180.5L448.3,177.8L451.0,180.5L448.3,183.2ZM449.3,190.4L452.0,187.7L454.7,190.4L452.0,193.1ZM452.0,181.3L454.7,178.6L457.4,181.3L454.7,184.0ZM456.4,185.9L459.1,183.2L461.8,185.9L459.1,188.6ZM458.9,189.4L461.6,186.7L464.3,189.4L461.6,192.1ZM460.9,187.9L463.6,185.2L466.3,187.9L463.6,190.6ZM463.3,191.4L466.0,188.7L468.7,191.4L466.0,194.1ZM465.9,192.5L468.6,189.8L471.3,192.5L468.6,195.2ZM468.4,195.3L471.1,192.6L473.8,195.3L471.1,198.0ZM469.6,189.6L472.3,186.9L475.0,189.6L472.3,192.3ZM472.9,191.5L475.6,188.8L478.3,191.5L475.6,194.2ZM477.1,193.5L479.8,190.8L482.5,193.5L479.8,196.2ZM479.7,187.0L482.4,184.3L485.1,187.0L482.4,189.7ZM483.9,192.1L486.6,189.4L489.3,192.1L486.6,194.8ZM487.2,191.2L489.9,188.5L492.6,191.2L489.9,193.9ZM490.9,192.7L493.6,190.0L496.3,192.7L493.6,195.4ZM494.9,193.5L497.6,190.8L500.3,193.5L497.6,196.2ZM499.3,195.3L502.0,192.6L504.7,195.3L502.0,198.0ZM507.3,195.5L510.0,192.8L512.7,195.5L510.0,198.2ZM514.7,195.3L517.4,192.6L520.1,195.3L517.4,198.0ZM519.5,195.2L522.2,192.5L524.9,195.2L522.2,197.9ZM526.4,195.8L529.1,193.1L531.8,195.8L529.1,198.5ZM531.0,195.0L533.7,192.3L536.4,195.0L533.7,197.7ZM537.4,195.2L540.1,192.5L542.8,195.2L540.1,197.9ZM545.4,195.2L548.1,192.5L550.8,195.2L548.1,197.9ZM553.6,194.5L556.3,191.8L559.0,194.5L556.3,197.2ZM561.3,194.4L564.0,191.7L566.7,194.4L564.0,197.1ZM569.5,195.0L572.2,192.3L574.9,195.0L572.2,197.7ZM574.4,196.1L577.1,193.4L579.8,196.1L577.1,198.8ZM579.8,194.9L582.5,192.2L585.2,194.9L582.5,197.6ZM586.0,195.4L588.7,192.7L591.4,195.4L588.7,198.1ZM591.7,195.5L594.4,192.8L597.1,195.5L594.4,198.2ZM597.8,195.8L600.5,193.1L603.2,195.8L600.5,198.5ZM604.6,195.4L607.3,192.7L610.0,195.4L607.3,198.1ZM612.7,195.3L615.4,192.6L618.1,195.3L615.4,198.0ZM620.9,195.0L623.6,192.3L626.3,195.0L623.6,197.7ZM629.4,195.3L632.1,192.6L634.8,195.3L632.1,198.0ZM634.6,193.8L637.3,191.1L640.0,193.8L637.3,196.5ZM642.9,194.9L645.6,192.2L648.3,194.9L645.6,197.6ZM649.7,194.7L652.4,192.0L655.1,194.7L652.4,197.4ZM653.1,194.3L655.8,191.6L658.5,194.3L655.8,197.0ZM656.5,194.9L659.2,192.2L661.9,194.9L659.2,197.6ZM659.9,193.8L662.6,191.1L665.3,193.8L662.6,196.5ZM663.3,194.0L666.0,191.3L668.7,194.0L666.0,196.7ZM666.7,194.8L669.4,192.1L672.1,194.8L669.4,197.5ZM669.8,196.3L672.5,193.6L675.2,196.3L672.5,199.0ZM447.7,186.2L450.4,183.5L453.1,186.2L450.4,188.9ZM451.1,184.5L453.8,181.8L456.5,184.5L453.8,187.2ZM454.5,183.9L457.2,181.2L459.9,183.9L457.2,186.6ZM456.9,186.6L459.6,183.9L462.3,186.6L459.6,189.3ZM463.5,191.5L466.2,188.8L468.9,191.5L466.2,194.2ZM466.1,192.7L468.8,190.0L471.5,192.7L468.8,195.4ZM472.0,191.0L474.7,188.3L477.4,191.0L474.7,193.7ZM474.5,192.3L477.2,189.6L479.9,192.3L477.2,195.0ZM482.1,189.9L484.8,187.2L487.5,189.9L484.8,192.6ZM489.7,192.2L492.4,189.5L495.1,192.2L492.4,194.9ZM492.2,192.9L494.9,190.2L497.6,192.9L494.9,195.6ZM494.7,193.4L497.4,190.7L500.1,193.4L497.4,196.1ZM497.2,194.5L499.9,191.8L502.6,194.5L499.9,197.2Z" fill="#00f"/>
<polyline points="416.0,196.5 416.3,168.8 418.0,184.4 419.5,159.0 420.4,150.0 422.0,174.0 424.3,30.0 425.1,142.5 426.4,156.0 427.3,103.0 429.5,145.6 431.4,186.3 434.6,148.0 437.6,181.0 440.1,172.8 444.2,191.3 446.4,183.8 450.4,188.6 453.1,178.2 457.5,183.2 460.0,188.0 462.0,186.3 464.4,189.5 467.0,191.0 469.5,195.1 470.7,187.6 474.0,190.0 478.2,193.2 480.8,184.8 485.0,191.5 488.3,190.0 492.0,192.0 496.0,192.5 500.0,191.0 507.1,191.6 514.0,192.5 521.0,193.2 527.0,192.0 533.9,192.8 540.0,192.0 546.9,191.5 553.6,193.0 560.0,192.0 566.4,191.0 573.4,191.9 580.0,192.5 586.8,191.0 592.0,192.5 598.5,192.2 604.0,192.8 609.8,193.6 614.0,192.5 619.0,193.0 623.0,192.8 627.4,193.5 633.0,193.2 637.0,192.0 641.8,191.0 646.3,193.0 652.0,195.0 658.0,196.0 668.0,196.0 672.5,196.3" fill="none" stroke="#f00" stroke-width="1.5" stroke-linejoin="round"/>
<path d="M413.4,196.5L416.0,193.9L418.6,196.5L416.0,199.1ZM413.7,168.8L416.3,166.2L418.9,168.8L416.3,171.4ZM415.4,184.4L418.0,181.8L420.6,184.4L418.0,187.0ZM416.9,159.0L419.5,156.4L422.1,159.0L419.5,161.6ZM417.8,150.0L420.4,147.4L423.0,150.0L420.4,152.6ZM419.4,174.0L422.0,171.4L424.6,174.0L422.0,176.6ZM421.7,30.0L424.3,27.4L426.9,30.0L424.3,32.6ZM422.5,142.5L425.1,139.9L427.7,142.5L425.1,145.1ZM423.8,156.0L426.4,153.4L429.0,156.0L426.4,158.6ZM424.7,103.0L427.3,100.4L429.9,103.0L427.3,105.6ZM426.9,145.6L429.5,143.0L432.1,145.6L429.5,148.2ZM428.8,186.3L431.4,183.7L434.0,186.3L431.4,188.9ZM432.0,148.0L434.6,145.4L437.2,148.0L434.6,150.6ZM435.0,181.0L437.6,178.4L440.2,181.0L437.6,183.6ZM437.5,172.8L440.1,170.2L442.7,172.8L440.1,175.4ZM441.6,191.3L444.2,188.7L446.8,191.3L444.2,193.9ZM443.8,183.8L446.4,181.2L449.0,183.8L446.4,186.4ZM447.8,188.6L450.4,186.0L453.0,188.6L450.4,191.2ZM450.5,178.2L453.1,175.6L455.7,178.2L453.1,180.8ZM454.9,183.2L457.5,180.6L460.1,183.2L457.5,185.8ZM459.4,186.3L462.0,183.7L464.6,186.3L462.0,188.9ZM461.8,189.5L464.4,186.9L467.0,189.5L464.4,192.1ZM466.9,195.1L469.5,192.5L472.1,195.1L469.5,197.7ZM468.1,187.6L470.7,185.0L473.3,187.6L470.7,190.2ZM475.6,193.2L478.2,190.6L480.8,193.2L478.2,195.8ZM478.2,184.8L480.8,182.2L483.4,184.8L480.8,187.4ZM485.7,190.0L488.3,187.4L490.9,190.0L488.3,192.6ZM489.4,192.0L492.0,189.4L494.6,192.0L492.0,194.6ZM504.5,191.6L507.1,189.0L509.7,191.6L507.1,194.2ZM518.4,193.2L521.0,190.6L523.6,193.2L521.0,195.8ZM531.3,192.8L533.9,190.2L536.5,192.8L533.9,195.4ZM544.3,191.5L546.9,188.9L549.5,191.5L546.9,194.1ZM551.0,193.0L553.6,190.4L556.2,193.0L553.6,195.6ZM563.8,191.0L566.4,188.4L569.0,191.0L566.4,193.6ZM570.8,191.9L573.4,189.3L576.0,191.9L573.4,194.5ZM584.2,191.0L586.8,188.4L589.4,191.0L586.8,193.6ZM595.9,192.2L598.5,189.6L601.1,192.2L598.5,194.8ZM607.2,193.6L609.8,191.0L612.4,193.6L609.8,196.2ZM616.4,193.0L619.0,190.4L621.6,193.0L619.0,195.6ZM624.8,193.5L627.4,190.9L630.0,193.5L627.4,196.1ZM630.4,193.2L633.0,190.6L635.6,193.2L633.0,195.8ZM639.2,191.0L641.8,188.4L644.4,191.0L641.8,193.6ZM643.7,193.0L646.3,190.4L648.9,193.0L646.3,195.6ZM655.4,196.0L658.0,193.4L660.6,196.0L658.0,198.6ZM665.4,196.0L668.0,193.4L670.6,196.0L668.0,198.6Z" fill="#fff" stroke="#f00" stroke-width="0.9"/>
</g>
<g font-size="16px" text-anchor="end">
<text x="405.5" y="12.5">80</text>
<text x="405.5" y="36.3">70</text>
<text x="405.5" y="60.1">60</text>
<text x="405.5" y="83.9">50</text>
<text x="405.5" y="107.8">40</text>
<text x="405.5" y="131.6">30</text>
<text x="405.5" y="155.4">20</text>
<text x="405.5" y="179.2">10</text>
<text x="405.5" y="203.0">0</text>
</g>
<g font-size="16px" text-anchor="middle">
<text x="415.7" y="217.6">0</text>
<text x="467.0" y="217.6">1</text>
<text x="518.3" y="217.6">2</text>
<text x="569.5" y="217.6">3</text>
<text x="620.8" y="217.6">4</text>
<text x="672.1" y="217.6">5</text>
</g>
<text font-family="'Liberation Sans', Arial, sans-serif" font-size="15px" x="499" y="233.2">Frequency (Hz)</text>
<text font-size="16.45px" transform="translate(379.3,188.3) rotate(-90)">Fourier spectrum,<tspan font-style="italic">U</tspan>(m*s)</text>
<path d="M588.9,17.2h28.9" stroke="#000" stroke-width="1.3"/>
<path d="M588.9,31.8h28.9" stroke="#00f" stroke-width="1.3"/><circle cx="603.3" cy="31.8" r="2.2" fill="#00f"/>
<path d="M588.9,45.9h28.9" stroke="#f00" stroke-width="1.3"/><path d="M600.5,45.9l2.8,-2.8l2.8,2.8l-2.8,2.8z" fill="#fff" stroke="#f00" stroke-width="0.8"/>
<g font-size="12.1px"><text x="625.7" y="21.6">CASE4</text><text x="625.7" y="36.1">CASE5</text><text x="625.7" y="50.4">CASE6</text></g>
<text font-size="21.68px" x="360.8" y="272">(b) Fourier spectrum of displacement</text>
</svg>
</body></html>
